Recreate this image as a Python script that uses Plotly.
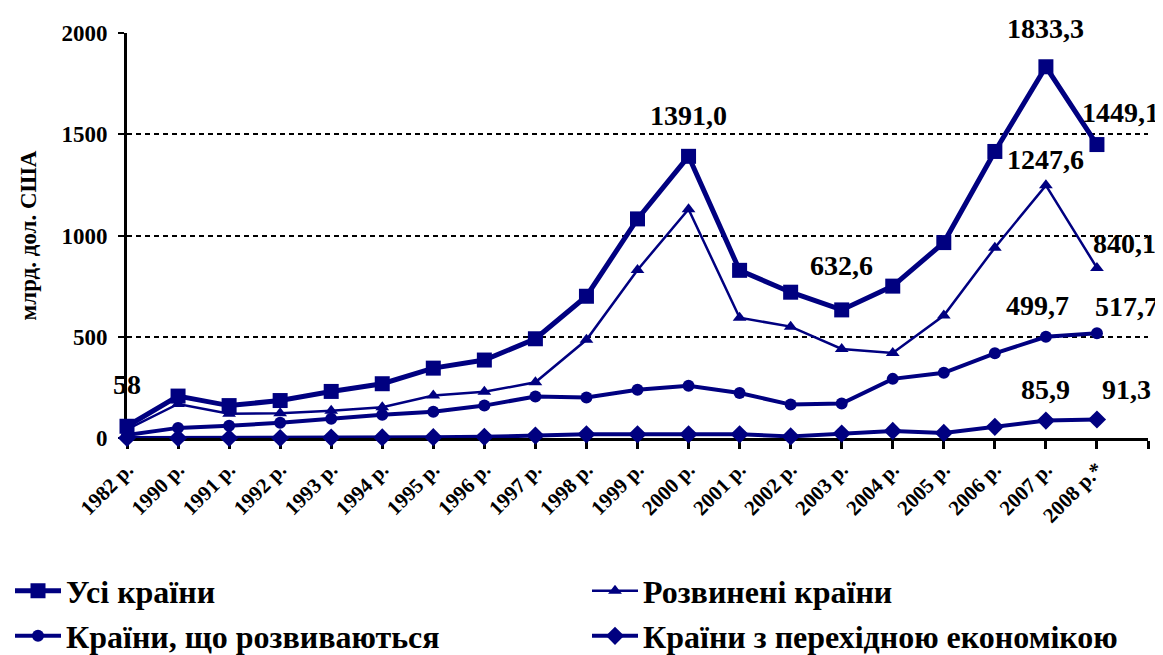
import plotly.graph_objects as go

# ---------------- data ----------------
categories = ["1982 р.", "1990 р.", "1991 р.", "1992 р.", "1993 р.", "1994 р.", "1995 р.",
              "1996 р.", "1997 р.", "1998 р.", "1999 р.", "2000 р.", "2001 р.", "2002 р.",
              "2003 р.", "2004 р.", "2005 р.", "2006 р.", "2007 р.", "2008 р.*"]

all_countries = [58, 207, 160, 185, 230, 268, 345, 385, 490, 700, 1082, 1391.0, 828, 720,
                 632.6, 750, 965, 1415, 1833.3, 1449.1]
developed = [42, 168, 120, 122, 135, 152, 210, 228, 275, 485, 830, 1130, 594, 550,
             440, 420, 605, 940, 1247.6, 840.1]
developing = [15, 50, 60, 75, 95, 115, 130, 160, 205, 200, 238, 258, 222, 165,
              170, 292, 322, 418, 499.7, 517.7]
transition = [0, 0, 0, 0, 2, 3, 4, 6, 12, 18, 18, 18, 18, 8,
              22, 35, 25, 55, 85.9, 91.3]

series_names = ["Усі країни", "Розвинені країни", "Країни, що розвиваються",
                "Країни з перехідною економікою"]

y_ticks = [0, 500, 1000, 1500, 2000]
y_title = "млрд. дол. США"

# labelled points: (series index, category index, text)
labels = [
    (0, 0, "58"), (0, 11, "1391,0"), (0, 14, "632,6"), (0, 18, "1833,3"), (0, 19, "1449,1"),
    (1, 18, "1247,6"), (1, 19, "840,1"),
    (2, 18, "499,7"), (2, 19, "517,7"),
    (3, 18, "85,9"), (3, 19, "91,3"),
]

# ---------------- style ----------------
NAVY = "#000080"
FONT = "Liberation Serif, Times New Roman, serif"
series_values = [all_countries, developed, developing, transition]
symbols = ["square", "triangle-up", "circle", "diamond"]
msizes = [15, 12, 12, 14]
lwidths = [5, 2.5, 4, 4]
legend_ids = ["legend", "legend2", "legend3", "legend4"]
# legend entry positions in page pixels (left edge, vertical centre)
legend_pos = [(10, 591), (587, 591), (10, 636), (587, 636)]
# label offsets (px) per labelled point, same order as `labels`
label_shift = [(0, 42), (0, 41), (0, 44), (0, 38), (24, 32),
               (0, 26), (28, 24),
               (-8, 31), (30, 27),
               (0, 31), (30, 30)]

x_idx = list(range(len(categories)))

fig = go.Figure()
for i, vals in enumerate(series_values):
    fig.add_trace(go.Scatter(
        x=x_idx, y=vals, name=series_names[i], mode="lines+markers",
        line=dict(color=NAVY, width=lwidths[i]),
        marker=dict(symbol=symbols[i], size=msizes[i], color=NAVY),
        cliponaxis=False, legend=legend_ids[i],
    ))

for (s, c, txt), (dx, dy) in zip(labels, label_shift):
    fig.add_annotation(
        x=x_idx[c], y=series_values[s][c], text=txt, showarrow=False,
        xshift=dx, yshift=dy, yanchor="middle", xanchor="center",
        font=dict(family=FONT, size=28, color="black", weight="bold"),
    )

# The page body has an 8px margin, so the figure is drawn at (8, 8).
OFF = 8
W, H = 1163 - OFF, 655 - OFF
# plot area in page pixels: x 127..1148, y 33..438
L, R, T, B = 127 - OFF, 1148 - OFF, 33 - OFF, 438 - OFF
PW, PH = float(R - L), float(B - T)

legend_common = dict(
    orientation="h", xref="paper", yref="paper", xanchor="left", yanchor="middle",
    font=dict(family=FONT, size=32, color="black", weight="bold"),
    itemwidth=46, bgcolor="rgba(0,0,0,0)",
)
legends = {}
for lid, (px, py) in zip(legend_ids, legend_pos):
    legends[lid] = dict(x=(px - OFF - L) / PW, y=-(py - OFF - B) / PH, **legend_common)

fig.update_layout(
    width=W, height=H,
    margin=dict(l=L, r=W - R, t=T, b=H - B, autoexpand=False),
    paper_bgcolor="white", plot_bgcolor="white",
    font=dict(family=FONT, color="black"),
    showlegend=True,
    **legends,
    xaxis=dict(
        range=[0, len(categories)], tickmode="array",
        tickvals=list(range(len(categories) + 1)), ticktext=categories + [""],
        tickangle=-45, showgrid=False, zeroline=False,
        showline=True, linecolor="black", linewidth=3,
        ticks="outside", ticklen=8, tickwidth=3, tickcolor="black",
        tickfont=dict(family=FONT, size=21, color="black", weight="bold"),
        layer="below traces", automargin=False,
    ),
    yaxis=dict(
        range=[0, 2000], tickmode="array", tickvals=y_ticks,
        showgrid=True, gridcolor="black", gridwidth=2, griddash="5px,4px",
        zeroline=False, showline=True, linecolor="black", linewidth=3,
        ticks="outside", ticklen=6, tickwidth=2, tickcolor="black",
        ticklabelstandoff=6,
        tickfont=dict(family=FONT, size=23, color="black", weight="bold"),
        title=dict(text=y_title, standoff=19,
                   font=dict(family=FONT, size=23, color="black", weight="bold")),
        layer="below traces", automargin=False,
    ),
)

fig.write_html("out.html")
